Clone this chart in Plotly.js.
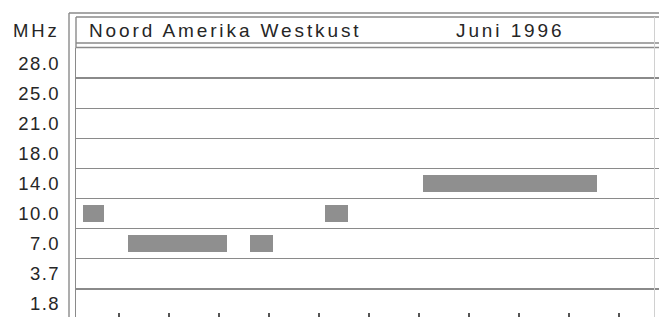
<!DOCTYPE html>
<html>
<head>
<meta charset="utf-8">
<script src="https://cdn.plot.ly/plotly-3.0.1.min.js"></script>
<style>
  html, body { margin: 0; padding: 0; overflow: hidden; background: #fff; }
  #chart { width: 659px; height: 330px; }
  .annotation-text { letter-spacing: 2.9px; }
  .ytick text { letter-spacing: 1.4px; }
</style>
</head>
<body>
<div id="chart"></div>
<script>
// Frequency bands (bottom to top)
const bands = ['1.8', '3.7', '7.0', '10.0', '14.0', '18.0', '21.0', '25.0', '28.0'];
// Openings: band, start hour, end hour (UTC)
const openBand  = ['10.0', '7.0', '7.0', '10.0', '14.0'];
const openStart = [0.55, 2.35, 7.25, 10.25, 14.15];
const openEnd   = [1.40, 6.30, 8.15, 11.15, 21.10];
// Hour tick marks along the bottom
const hourTicks = [2, 4, 6, 8, 10, 12, 14, 16, 18, 20, 22];
const titleText = 'Noord Amerika Westkust';
const dateText = 'Juni 1996';
const unitText = 'MHz';

// pixel helpers for frame decoration
const W = 659, H = 330, ML = 76, MR = 0, MT = 48, MB = 11;
const PW = W - ML - MR, PH = H - MT - MB;
const px = x => (x - ML) / PW;
const py = y => (H - MB - y) / PH;
const pxPerHour = 25;
const hour0Px = 69;
const xr = [(ML - hour0Px) / pxPerHour, (ML - hour0Px + PW) / pxPerHour];

const lineCol = '#8a8a8a';
const textCol = '#262626';
const font = 'Liberation Sans, Arial, Helvetica, sans-serif';

const trace = {
  type: 'bar',
  orientation: 'h',
  y: openBand,
  base: openStart,
  x: openEnd.map((e, i) => e - openStart[i]),
  width: 0.56,
  marker: { color: '#8f8f8f', line: { width: 0 } },
  hoverinfo: 'skip'
};

function hline(y, x0, x1, w, c) {
  return { type: 'line', xref: 'paper', yref: 'paper', x0: px(x0), x1: px(x1), y0: py(y), y1: py(y),
           line: { color: c || lineCol, width: w || 1.4 } };
}
function vline(x, y0, y1, w, c) {
  return { type: 'line', xref: 'paper', yref: 'paper', x0: px(x), x1: px(x), y0: py(y0), y1: py(y1),
           line: { color: c || lineCol, width: w || 1.4 } };
}

const layout = {
  width: W, height: H,
  margin: { l: ML, r: MR, t: MT, b: MB, pad: 0 },
  paper_bgcolor: '#fff', plot_bgcolor: '#fff',
  showlegend: false,
  bargap: 0,
  xaxis: {
    range: xr, showgrid: false, zeroline: false,
    tickmode: 'array', tickvals: hourTicks, ticks: 'inside', ticklen: 6,
    tickcolor: '#555', tickwidth: 1.2, showticklabels: false,
    showline: true, linecolor: lineCol, linewidth: 1.4, fixedrange: true
  },
  yaxis: {
    type: 'category', categoryorder: 'array', categoryarray: bands,
    range: [-0.5, bands.length - 0.5],
    tickson: 'boundaries', showgrid: true, gridcolor: lineCol, gridwidth: 1.4,
    ticks: '', ticklabelstandoff: 11,
    tickfont: { family: font, size: 18.5, color: textCol },
    showline: true, linecolor: lineCol, linewidth: 1.4, zeroline: false, fixedrange: true
  },
  shapes: [
    vline(69, 13, 340),
    hline(13, 69, 700),
    vline(76, 17, 48),
    hline(17, 76, 700),
    hline(43, 76, 700),
    hline(47.5, 76, 700),
    vline(654.5, 17, 340, 1, '#d0d0d0')
  ],
  annotations: [
    { xref: 'paper', yref: 'paper', x: px(87), y: py(30.5), xanchor: 'left', yanchor: 'middle',
      text: titleText, showarrow: false, font: { family: font, size: 19, color: textCol } },
    { xref: 'paper', yref: 'paper', x: px(454), y: py(30.5), xanchor: 'left', yanchor: 'middle',
      text: dateText, showarrow: false, font: { family: font, size: 19, color: textCol } },
    { xref: 'paper', yref: 'paper', x: px(62), y: py(31), xanchor: 'right', yanchor: 'middle',
      text: unitText, showarrow: false, font: { family: font, size: 18.5, color: textCol } }
  ]
};

Plotly.newPlot('chart', [trace], layout, { staticPlot: true, displayModeBar: false });
</script>
</body>
</html>
